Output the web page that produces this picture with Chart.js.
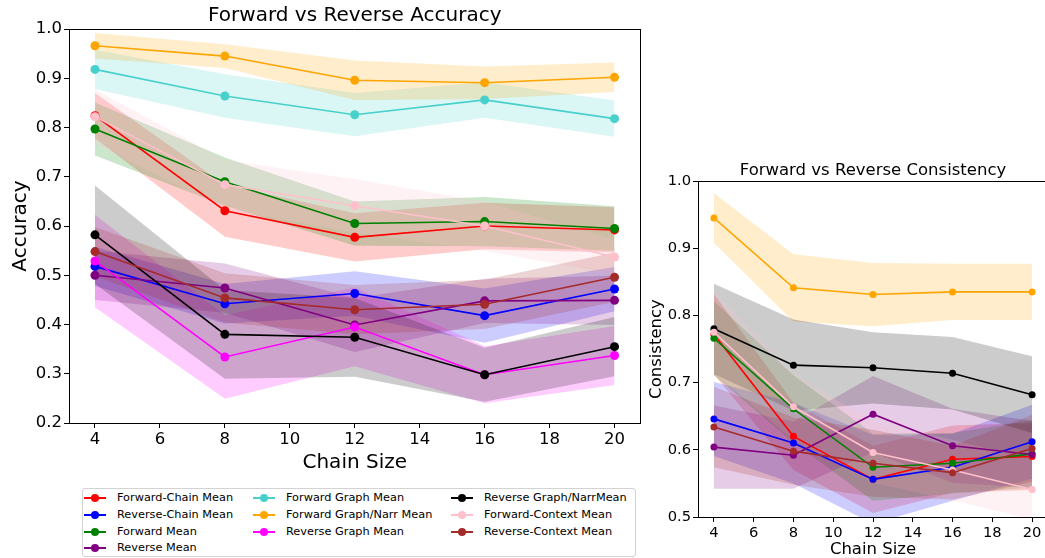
<!DOCTYPE html>
<html>
<head>
<meta charset="utf-8">
<script src="https://cdn.jsdelivr.net/npm/chart.js@4.4.0/dist/chart.umd.min.js"></script>
<style>
  html, body { margin: 0; padding: 0; background: #fff; overflow: hidden; }
  body { width: 1045px; height: 558px; position: relative; font-family: "DejaVu Sans", sans-serif; }
  #acc { position: absolute; left: 0; top: 0; }
  #cons { position: absolute; left: 641px; top: 150px; }
  #legend { position: absolute; left: 82px; top: 488px; width: 552px; height: 67px;
            border: 1px solid #d3d3d3; border-radius: 3px; background: #fff; }
  .item { position: absolute; font-size: 11.3px; line-height: 13px; white-space: nowrap; color: #000; }
  .mk { position: absolute; top: 6px; width: 22px; height: 2px; }
  .mk i { position: absolute; left: 7px; top: -3px; width: 8px; height: 8px; border-radius: 50%; }
</style>
</head>
<body>
<canvas id="acc" width="645" height="480"></canvas>
<canvas id="cons" width="420" height="408"></canvas>
<div id="legend"></div>
<script>
// x values and ticks
const chainSizes = [4, 8, 12, 16, 20];
const xTicks = [4, 6, 8, 10, 12, 14, 16, 18, 20];
const accYTicks = [0.2, 0.3, 0.4, 0.5, 0.6, 0.7, 0.8, 0.9, 1.0];
const consYTicks = [0.5, 0.6, 0.7, 0.8, 0.9, 1.0];

const seriesNames = ['Forward-Chain Mean', 'Reverse-Chain Mean', 'Forward Mean', 'Reverse Mean',
  'Forward Graph Mean', 'Forward Graph/Narr Mean', 'Reverse Graph Mean',
  'Reverse Graph/NarrMean', 'Forward-Context Mean', 'Reverse-Context Mean'];
const seriesColors = ['#ff0000', '#0000ff', '#008000', '#800080', '#48d1cc', '#ffa500',
  '#ff00ff', '#000000', '#ffc0cb', '#a52a2a'];

// accuracy: means and std per series (same order as seriesNames)
const accForwardChain = [0.824, 0.631, 0.577, 0.600, 0.592];
const accReverseChain = [0.518, 0.442, 0.463, 0.418, 0.472];
const accForward = [0.797, 0.690, 0.605, 0.609, 0.595];
const accReverse = [0.500, 0.474, 0.399, 0.448, 0.449];
const accForwardGraph = [0.918, 0.864, 0.826, 0.856, 0.818];
const accForwardGraphNarr = [0.966, 0.945, 0.896, 0.891, 0.902];
const accReverseGraph = [0.529, 0.334, 0.395, 0.298, 0.337];
const accReverseGraphNarr = [0.582, 0.380, 0.374, 0.298, 0.355];
const accForwardContext = [0.822, 0.684, 0.641, 0.600, 0.537];
const accReverseContext = [0.548, 0.454, 0.430, 0.441, 0.496];

const accForwardChainStd = [0.046, 0.053, 0.049, 0.047, 0.046];
const accReverseChainStd = [0.040, 0.040, 0.045, 0.055, 0.045];
const accForwardStd = [0.054, 0.049, 0.045, 0.050, 0.045];
const accReverseStd = [0.050, 0.050, 0.055, 0.045, 0.050];
const accForwardGraphStd = [0.040, 0.044, 0.044, 0.036, 0.037];
const accForwardGraphNarrStd = [0.026, 0.024, 0.040, 0.033, 0.030];
const accReverseGraphStd = [0.094, 0.085, 0.080, 0.058, 0.060];
const accReverseGraphNarrStd = [0.100, 0.090, 0.080, 0.055, 0.060];
const accForwardContextStd = [0.055, 0.050, 0.054, 0.050, 0.035];
const accReverseContextStd = [0.050, 0.050, 0.050, 0.050, 0.050];

// consistency (no Forward Graph / Reverse Graph series)
const consForwardChain = [0.772, 0.620, 0.556, 0.586, 0.590];
const consReverseChain = [0.646, 0.610, 0.556, 0.574, 0.612];
const consForward = [0.766, 0.661, 0.574, 0.580, 0.594];
const consReverse = [0.604, 0.592, 0.653, 0.606, 0.593];
const consForwardGraphNarr = [0.945, 0.841, 0.831, 0.835, 0.835];
const consReverseGraphNarr = [0.780, 0.726, 0.722, 0.714, 0.682];
const consForwardContext = [0.775, 0.664, 0.596, 0.570, 0.541];
const consReverseContext = [0.634, 0.598, 0.580, 0.566, 0.602];

const consForwardChainStd = [0.060, 0.050, 0.050, 0.050, 0.050];
const consReverseChainStd = [0.055, 0.060, 0.066, 0.050, 0.055];
const consForwardStd = [0.055, 0.050, 0.050, 0.045, 0.050];
const consReverseStd = [0.062, 0.050, 0.057, 0.055, 0.050];
const consForwardGraphNarrStd = [0.037, 0.050, 0.047, 0.042, 0.042];
const consReverseGraphNarrStd = [0.067, 0.068, 0.053, 0.054, 0.057];
const consForwardContextStd = [0.060, 0.050, 0.045, 0.045, 0.045];
const consReverseContextStd = [0.060, 0.050, 0.050, 0.040, 0.050];

const accMeans = [accForwardChain, accReverseChain, accForward, accReverse, accForwardGraph,
  accForwardGraphNarr, accReverseGraph, accReverseGraphNarr, accForwardContext, accReverseContext];
const accStds = [accForwardChainStd, accReverseChainStd, accForwardStd, accReverseStd, accForwardGraphStd,
  accForwardGraphNarrStd, accReverseGraphStd, accReverseGraphNarrStd, accForwardContextStd, accReverseContextStd];
const consMeans = [consForwardChain, consReverseChain, consForward, consReverse, null,
  consForwardGraphNarr, null, consReverseGraphNarr, consForwardContext, consReverseContext];
const consStds = [consForwardChainStd, consReverseChainStd, consForwardStd, consReverseStd, null,
  consForwardGraphNarrStd, null, consReverseGraphNarrStd, consForwardContextStd, consReverseContextStd];

Chart.defaults.font.family = '"DejaVu Sans", sans-serif';
Chart.defaults.color = '#000';

function alpha(hex, a) {
  const n = parseInt(hex.slice(1), 16);
  return `rgba(${(n >> 16) & 255},${(n >> 8) & 255},${n & 255},${a})`;
}

function buildDatasets(means, stds, radius) {
  const bands = [], lines = [];
  seriesNames.forEach((name, i) => {
    const m = means[i];
    if (!m) return;
    const s = stds[i];
    bands.push({
      label: name + ' +std', data: chainSizes.map((x, j) => ({ x, y: m[j] + s[j] })),
      fill: '+1', backgroundColor: alpha(seriesColors[i], 0.2), borderColor: 'rgba(0,0,0,0)',
      borderWidth: 0, pointRadius: 0, order: 1000 - i
    });
    bands.push({
      label: name + ' -std', data: chainSizes.map((x, j) => ({ x, y: m[j] - s[j] })),
      fill: false, borderColor: 'rgba(0,0,0,0)', borderWidth: 0, pointRadius: 0, order: 1000 - i
    });
    lines.push({
      label: name, data: chainSizes.map((x, j) => ({ x, y: m[j] })),
      borderColor: seriesColors[i], backgroundColor: seriesColors[i], borderWidth: 1.6,
      pointRadius: radius, pointBorderWidth: 0, fill: false, order: 100 - i
    });
  });
  return bands.concat(lines);
}

// top and right axis lines
const spines = {
  id: 'spines',
  afterDraw(chart) {
    const { ctx, chartArea: a } = chart;
    ctx.save();
    ctx.strokeStyle = '#000';
    ctx.lineWidth = 1;
    ctx.beginPath();
    ctx.moveTo(a.left, Math.round(a.top) + 0.5);
    ctx.lineTo(a.right, Math.round(a.top) + 0.5);
    ctx.moveTo(Math.round(a.right) - 0.5, a.top);
    ctx.lineTo(Math.round(a.right) - 0.5, a.bottom);
    ctx.stroke();
    ctx.restore();
  }
};

function makeChart(id, cfg) {
  return new Chart(document.getElementById(id), {
    type: 'line',
    data: { datasets: buildDatasets(cfg.means, cfg.stds, cfg.radius) },
    plugins: [spines],
    options: {
      responsive: false, animation: false, events: [],
      layout: { padding: { left: 0, top: 0, right: cfg.padRight, bottom: 0 } },
      plugins: {
        legend: { display: false }, tooltip: { enabled: false },
        title: {
          display: true, text: cfg.title, fullSize: false, color: '#000',
          font: { size: cfg.titleSize, weight: 'normal' }, padding: cfg.titlePad
        }
      },
      scales: {
        x: {
          type: 'linear', min: 3.2, max: 20.8,
          afterBuildTicks: s => { s.ticks = xTicks.map(v => ({ value: v })); },
          afterFit: s => { s.height = cfg.xHeight; },
          grid: { drawOnChartArea: false, drawTicks: true, tickLength: 5, color: '#000' },
          border: { display: true, color: '#000', width: 1 },
          ticks: { color: '#000', font: { size: cfg.tickSize }, padding: 2, maxRotation: 0, autoSkip: false },
          title: { display: true, text: 'Chain Size', color: '#000',
                   font: { size: cfg.labelSize, lineHeight: cfg.xTitleLH }, padding: cfg.xTitlePad }
        },
        y: {
          type: 'linear', min: cfg.yTicks[0], max: cfg.yTicks[cfg.yTicks.length - 1],
          afterBuildTicks: s => { s.ticks = cfg.yTicks.map(v => ({ value: v })); },
          afterFit: s => { s.width = cfg.yWidth; },
          grid: { drawOnChartArea: false, drawTicks: true, tickLength: 5, color: '#000' },
          border: { display: true, color: '#000', width: 1 },
          ticks: { color: '#000', font: { size: cfg.tickSize }, padding: 2, callback: v => v.toFixed(1) },
          title: { display: true, text: cfg.yLabel, color: '#000', font: { size: cfg.labelSize }, padding: cfg.yTitlePad }
        }
      }
    }
  });
}

makeChart('acc', {
  means: accMeans, stds: accStds, radius: 4.5, title: 'Forward vs Reverse Accuracy',
  titleSize: 20, titlePad: { top: 4, bottom: 1 }, padRight: 4, xHeight: 57, yWidth: 69,
  tickSize: 16.5, labelSize: 20, xTitleLH: 1.2, xTitlePad: { top: 0, bottom: 5 }, yTitlePad: { top: 9, bottom: 0 },
  yLabel: 'Accuracy', yTicks: accYTicks
});

makeChart('cons', {
  means: consMeans, stds: consStds, radius: 3.5, title: 'Forward vs Reverse Consistency',
  titleSize: 16.5, titlePad: { top: 11, bottom: 0.2 }, padRight: 13, xHeight: 41, yWidth: 57,
  tickSize: 14.7, labelSize: 16.5, xTitleLH: 1, xTitlePad: { top: 0, bottom: 0 }, yTitlePad: { top: 6, bottom: 0 },
  yLabel: 'Consistency', yTicks: consYTicks
});

// legend in 3 columns, filled column by column
const legend = document.getElementById('legend');
const colX = [1, 170, 368];
const rowY = [2, 19, 36, 52];
const perCol = [4, 3, 3];
let k = 0;
perCol.forEach((count, c) => {
  for (let r = 0; r < count; r++, k++) {
    const it = document.createElement('div');
    it.className = 'item';
    it.style.left = colX[c] + 'px';
    it.style.top = rowY[r] + 'px';
    it.innerHTML = `<span class="mk" style="left:0;background:${seriesColors[k]}"><i style="background:${seriesColors[k]}"></i></span>` +
      `<span style="margin-left:33px">${seriesNames[k]}</span>`;
    legend.appendChild(it);
  }
});
</script>
</body>
</html>
